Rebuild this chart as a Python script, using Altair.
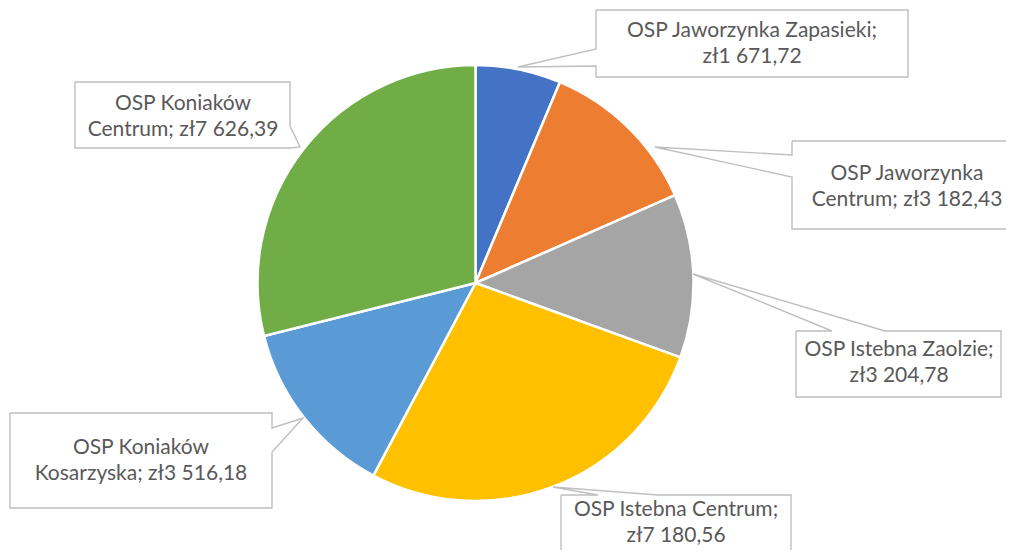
import altair as alt
import pandas as pd

# ---- data ----
names = [
    "OSP Jaworzynka Zapasieki",
    "OSP Jaworzynka Centrum",
    "OSP Istebna Zaolzie",
    "OSP Istebna Centrum",
    "OSP Koniaków Kosarzyska",
    "OSP Koniaków Centrum",
]
values = [1671.72, 3182.43, 3204.78, 7180.56, 3516.18, 7626.39]
colors = ["#4472C4", "#ED7D31", "#A5A5A5", "#FFC000", "#5B9BD5", "#70AD47"]
# words kept on the first label line
first_line_words = [3, 2, 3, 3, 2, 2]

# ---- layout (page pixel coordinates) ----
W, H = 998, 542
pie_cx, pie_cy, pie_r = 475.5, 283, 218
# callout outlines (box + pointer), listed as polylines
callouts = [
    [(596, 10), (908, 10), (908, 77), (596, 77), (596, 66), (518, 67), (596, 49), (596, 10)],
    [(792, 141), (1030, 141), (1030, 229), (792, 229), (792, 177), (655, 147), (792, 155), (792, 141)],
    [(796, 331), (832, 331), (693, 274), (885, 331), (1001, 331), (1001, 397), (796, 397), (796, 331)],
    [(561, 495), (598, 495), (553, 487), (658, 495), (791, 495), (791, 580), (561, 580), (561, 495)],
    [(10, 413), (272, 413), (272, 428), (303, 418), (272, 452), (272, 508), (10, 508), (10, 413)],
    [(75, 82), (290, 82), (290, 126), (300, 147), (290, 148), (75, 148), (75, 82)],
]
# centre of the first text line of each callout
text_anchor = [(752, 31), (907, 174), (899, 350), (676, 510), (141, 448), (183, 104)]


def fmt_pl(v):
    s = f"{v:,.2f}"
    return "zł" + s.replace(",", " ").replace(".", ",")


pie_df = pd.DataFrame({"name": names, "value": values, "idx": range(len(names))})

line_rows = []
for cid, pts in enumerate(callouts):
    for k, (px, py) in enumerate(pts):
        line_rows.append({"cid": cid, "k": k, "px": px, "py": py})
line_df = pd.DataFrame(line_rows)

text_rows = []
for i, (n, v) in enumerate(zip(names, values)):
    full = f"{n}; {fmt_pl(v)}"
    words = full.split(" ")
    nfirst = first_line_words[i]
    l1 = " ".join(words[:nfirst])
    l2 = " ".join(words[nfirst:])
    text_rows.append({"label": [l1, l2], "tx": text_anchor[i][0], "ty": text_anchor[i][1]})
text_df = pd.DataFrame(text_rows)

xs = alt.Scale(domain=[8, 8 + W], nice=False, zero=False)
ys = alt.Scale(domain=[8, 8 + H], nice=False, zero=False, reverse=True)

pie = alt.Chart(pie_df).mark_arc(
    outerRadius=pie_r, stroke="white", strokeWidth=2.5
).encode(
    theta=alt.Theta("value:Q", stack=True),
    color=alt.Color("name:N", scale=alt.Scale(domain=names, range=colors), legend=None),
    order=alt.Order("idx:Q"),
    x=alt.value(pie_cx - 8),
    y=alt.value(pie_cy - 8),
)

outlines = alt.Chart(line_df).mark_line(
    color="#BFBFBF", strokeWidth=1.4, clip=True, strokeJoin="miter"
).encode(
    x=alt.X("px:Q", scale=xs, axis=None),
    y=alt.Y("py:Q", scale=ys, axis=None),
    detail="cid:N",
    order="k:Q",
)

labels = alt.Chart(text_df).mark_text(
    font="Lato", fontSize=21, color="#595959", align="center", baseline="middle", lineHeight=26
).encode(
    x=alt.X("tx:Q", scale=xs, axis=None),
    y=alt.Y("ty:Q", scale=ys, axis=None),
    text="label",
)

chart = alt.layer(pie, outlines, labels).properties(
    width=W, height=H, padding=0, autosize="none"
).configure_view(stroke=None)

chart.save("out.html", embed_options={"renderer": "svg", "actions": False})
